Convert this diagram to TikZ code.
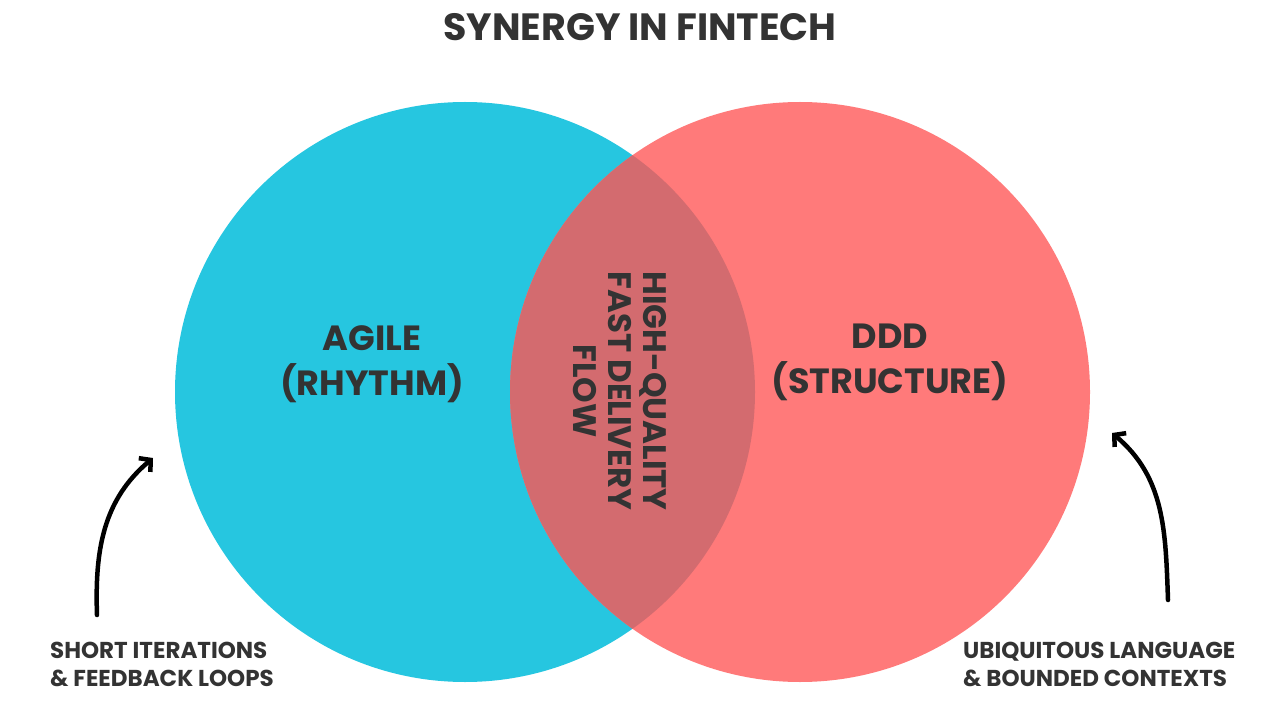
\documentclass[tikz,border=0pt]{standalone}
\usepackage{fontspec}
\setmainfont{Poppins}[BoldFont={* Bold}]
\usetikzlibrary{arrows.meta}
\definecolor{agilecyan}{HTML}{26C6E0}
\definecolor{dddred}{HTML}{FF7A7A}
\definecolor{mixred}{HTML}{D36B6F}
\definecolor{inkgray}{HTML}{333333}
\begin{document}
\begin{tikzpicture}[x=1pt, y=-1pt, inner sep=0pt, text=inkgray, font=\bfseries]
		\useasboundingbox[fill=white] (0, 0) rectangle (1280, 719);
		\node[font=\bfseries\fontsize{38}{40}\selectfont] (title) at (640, 27) {SYNERGY IN FINTECH};
		\node[circle, fill=agilecyan, minimum size=580pt] (agile) at (465, 392) {};
		\node[circle, fill=dddred, minimum size=580pt] (ddd) at (800, 392) {};
		\begin{scope}
			\clip (agile.center) circle (290);
			\fill[mixred] (ddd.center) circle (290);
		\end{scope}
		\node[align=center, font=\bfseries\fontsize{35}{45}\selectfont] (rhythm) at (372, 364) {AGILE\\(RHYTHM)};
		\node[align=center, font=\bfseries\fontsize{35}{45}\selectfont] (structure) at (890, 362) {DDD\\(STRUCTURE)};
		\node[align=center, rotate=-90, font=\bfseries\fontsize{32.5}{35}\selectfont] (flow) at (620, 391) {HIGH-QUALITY\\FAST DELIVERY\\FLOW};
		\node[align=left, anchor=north west, font=\bfseries\fontsize{23}{28}\selectfont] (loops) at (50, 642) {SHORT ITERATIONS\\\& FEEDBACK LOOPS};
		\node[align=left, anchor=north west, font=\bfseries\fontsize{23}{28}\selectfont] (contexts) at (963, 642) {UBIQUITOUS LANGUAGE\\\& BOUNDED CONTEXTS};
		\coordinate (loopsarrow) at (153, 458);
		\coordinate (contextsarrow) at (1112, 433);
		\draw[-{Straight Barb[length=8pt, width=18pt]}, line width=4.5pt, line cap=round] (97, 615) to[out=92, in=220] (loopsarrow);
		\draw[-{Straight Barb[length=8pt, width=18pt]}, line width=4.5pt, line cap=round] (1168, 600) to[out=92, in=-40] (contextsarrow);
	\end{tikzpicture}
\end{document}
